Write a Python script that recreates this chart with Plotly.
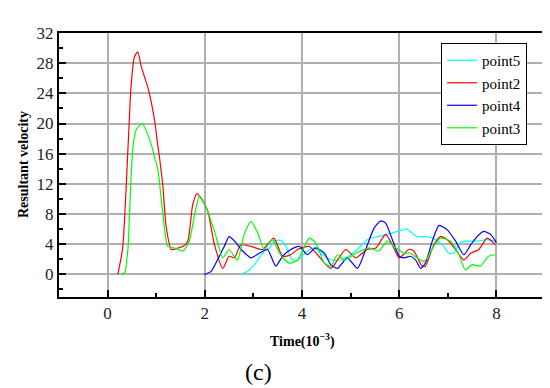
import plotly.graph_objects as go

# point2 (red)
t2 = [0.21, 0.31, 0.42, 0.48, 0.55, 0.62, 0.69, 0.84, 0.97, 1.03, 1.07, 1.14, 1.2, 1.31, 1.45, 1.55, 1.65, 1.75, 1.84, 1.96,
      2.06, 2.2, 2.37, 2.5, 2.61, 2.74, 2.95, 3.19, 3.42, 3.6, 3.77, 3.91, 4.15, 4.32, 4.59, 4.9, 5.1, 5.34, 5.52, 5.72, 5.86,
      6.0, 6.2, 6.3, 6.47, 6.54, 6.71, 6.85, 6.99, 7.16, 7.33, 7.47, 7.64, 7.81, 7.98]
v2 = [0.0, 3.5, 16.8, 24.7, 28.8, 29.5, 27.6, 24.5, 20.3, 17.2, 15.4, 11.5, 6.6, 3.3, 3.5, 3.7, 4.4, 9.2, 10.7, 9.7,
      8.4, 3.9, 0.8, 2.4, 2.2, 3.9, 3.7, 3.3, 4.8, 2.4, 2.6, 3.3, 3.7, 2.6, 0.8, 3.3, 2.2, 3.3, 3.5, 5.3, 3.9,
      2.2, 3.3, 3.1, 1.1, 1.1, 3.9, 5.0, 4.6, 3.3, 1.9, 2.8, 3.3, 4.8, 3.9]

# point3 (green)
t3 = [0.28, 0.35, 0.42, 0.45, 0.52, 0.59, 0.71, 0.9, 0.97, 1.03, 1.14, 1.24, 1.38, 1.55, 1.68, 1.79, 1.89, 2.02,
      2.2, 2.37, 2.5, 2.67, 2.81, 2.95, 3.09, 3.22, 3.39, 3.56, 3.74, 3.91, 4.15, 4.28, 4.46, 4.59, 4.73, 4.87, 5.11,
      5.38, 5.58, 5.76, 5.89, 6.1, 6.23, 6.51, 6.71, 6.85, 7.06, 7.23, 7.36, 7.5, 7.67, 7.84, 7.98]
v3 = [0.0, 0.2, 3.5, 7.9, 16.8, 19.2, 20.0, 17.2, 15.4, 14.1, 7.9, 3.7, 3.5, 3.1, 4.4, 7.9, 10.4, 9.0,
      5.7, 2.2, 3.3, 1.9, 5.3, 7.0, 5.5, 3.3, 4.6, 2.6, 1.5, 1.9, 4.8, 4.2, 1.5, 1.1, 2.6, 1.9, 2.8,
      3.5, 3.1, 4.4, 3.7, 2.8, 2.8, 1.7, 3.7, 4.8, 4.4, 2.6, 0.6, 1.3, 1.1, 2.4, 2.6]

# point4 (blue)
t4 = [1.99, 2.13, 2.26, 2.4, 2.5, 2.64, 2.78, 2.95, 3.12, 3.29, 3.46, 3.6, 3.77, 3.95, 4.11, 4.28, 4.46, 4.59, 4.73,
      4.93, 5.14, 5.31, 5.48, 5.62, 5.72, 5.86, 6.0, 6.1, 6.23, 6.34, 6.44, 6.54, 6.68, 6.82, 6.99, 7.16, 7.33, 7.47,
      7.6, 7.74, 7.88, 8.0]
v4 = [0.0, 0.4, 1.9, 3.7, 5.0, 4.2, 3.1, 2.2, 2.8, 3.3, 1.1, 2.4, 3.3, 3.7, 2.6, 3.5, 2.8, 1.3, 0.8,
      2.2, 0.8, 3.3, 6.1, 7.1, 6.8, 4.6, 2.4, 2.2, 2.4, 1.9, 0.8, 1.5, 4.4, 6.5, 5.9, 4.4, 2.6, 3.9,
      5.0, 5.7, 5.3, 4.2]

# point5 (cyan)
t5 = [2.74, 2.88, 3.05, 3.22, 3.33, 3.43, 3.56, 3.67, 3.77, 3.87, 4.0, 4.11, 4.25, 4.39, 4.59, 4.8, 5.0, 5.17, 5.34,
      5.55, 5.76, 5.96, 6.15, 6.37, 6.58, 6.75, 6.89, 7.02, 7.12, 7.26, 7.4, 7.6, 7.81, 7.98]
v5 = [0.0, 0.4, 1.5, 3.1, 3.5, 4.4, 4.5, 3.7, 2.2, 1.7, 2.4, 3.1, 3.5, 2.8, 1.9, 1.9, 2.6, 3.5, 4.6,
      5.0, 5.3, 5.7, 6.0, 5.0, 5.0, 4.6, 3.9, 2.8, 2.8, 4.2, 4.4, 4.4, 4.6, 4.4]

series = [
    ("point5", t5, v5, "#00FFFF"),
    ("point2", t2, v2, "#FF0000"),
    ("point4", t4, v4, "#0000FF"),
    ("point3", t3, v3, "#00FF00"),
]

x_ticks = [0, 2, 4, 6, 8]
y_ticks = [0, 4, 8, 12, 16, 20, 24, 28, 32]

fig = go.Figure()
for name, t, v, c in series:
    fig.add_trace(go.Scatter(x=t, y=v, mode="lines", name=name,
                             line=dict(color=c, width=1.2, shape="spline", smoothing=0.6)))

serif = "Times New Roman, Liberation Serif, DejaVu Serif, serif"
axis_common = dict(
    showline=True, linecolor="black", linewidth=2, mirror=True,
    showgrid=True, gridcolor="#B0B0B0", gridwidth=1.5,
    ticks="inside", tickcolor="black", tickwidth=2, ticklen=7,
    zeroline=False,
    tickfont=dict(family=serif, size=17, color="#222"),
)
fig.update_layout(
    width=550, height=388,
    margin=dict(l=51, r=11, t=25, b=99),
    plot_bgcolor="white", paper_bgcolor="white",
    font=dict(family=serif),
    showlegend=True,
    legend=dict(x=0.963, y=0.962, xanchor="right", yanchor="top",
                bgcolor="white", bordercolor="black", borderwidth=1,
                font=dict(family=serif, size=15, color="black"),
                tracegroupgap=0, itemwidth=30),
    xaxis=dict(range=[-1, 9], tickvals=x_ticks, ticktext=[str(v) for v in x_ticks],
               minor=dict(dtick=1, tick0=0, ticks="inside", ticklen=4, tickcolor="black", tickwidth=2, showgrid=False),
               **axis_common),
    yaxis=dict(range=[-3, 32], tickvals=y_ticks, ticktext=[str(v) for v in y_ticks],
               minor=dict(dtick=2, tick0=0, ticks="inside", ticklen=4, tickcolor="black", tickwidth=2, showgrid=False),
               **axis_common),
    annotations=[
        dict(text="<b>Resultant velocity</b>", xref="paper", yref="paper", x=0, y=0.5,
             xshift=-36, textangle=-90, showarrow=False, xanchor="center", yanchor="middle",
             font=dict(family=serif, size=14, color="black")),
        dict(text="<b>Time(10<sup>−3</sup>)</b>", xref="paper", yref="paper", x=0.5, y=0,
             yshift=-43, showarrow=False, xanchor="center", yanchor="middle",
             font=dict(family=serif, size=14, color="black")),
        dict(text="(c)", xref="paper", yref="paper", x=(251 - 51) / 488, y=0,
             yshift=-75, showarrow=False, xanchor="center", yanchor="middle",
             font=dict(family=serif, size=24, color="black")),
    ],
)

fig.write_html("out.html")
